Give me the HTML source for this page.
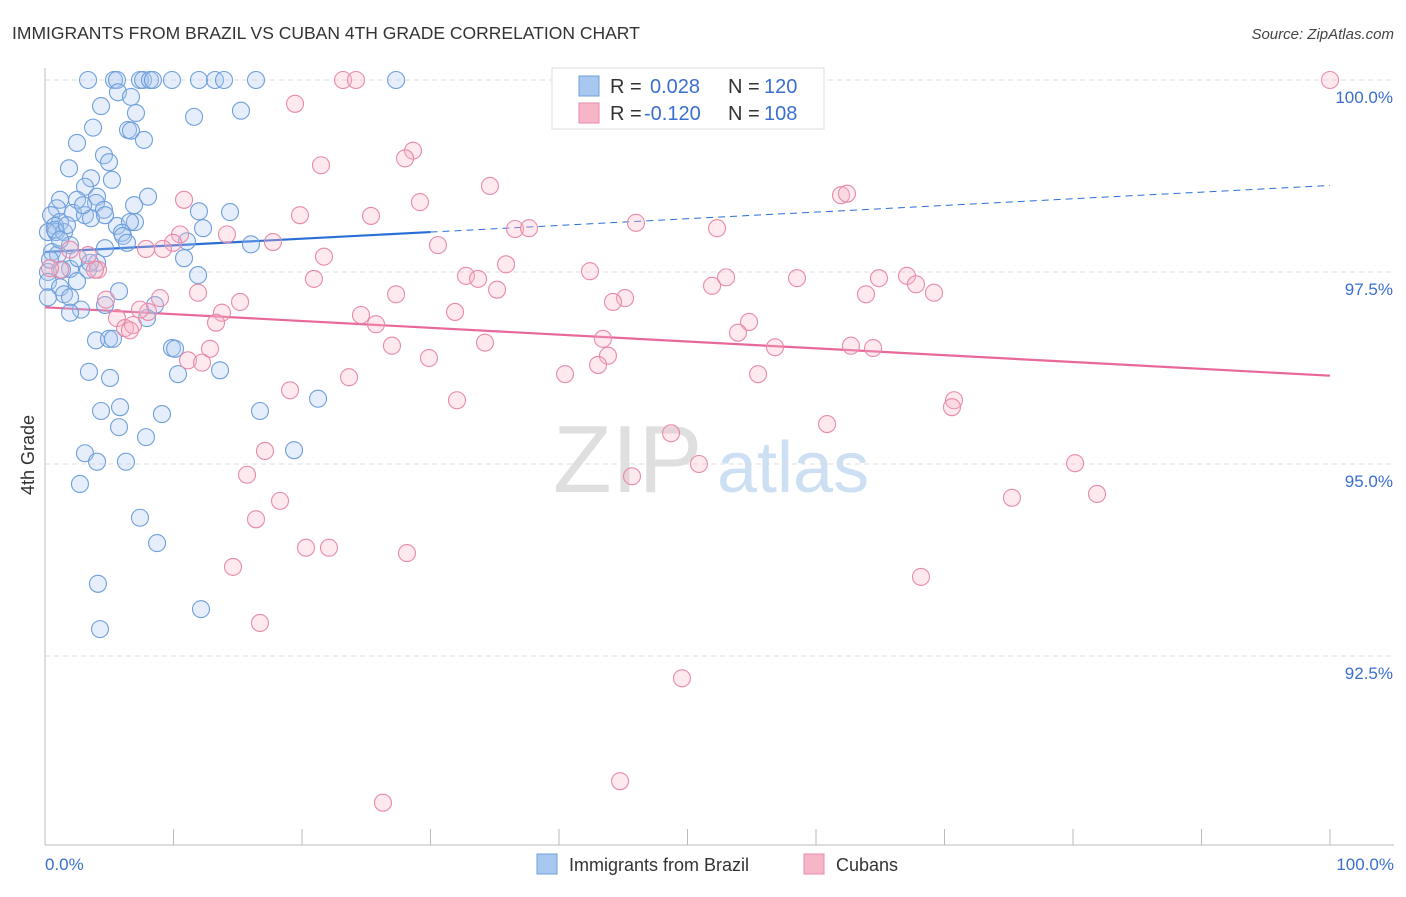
<!DOCTYPE html>
<html><head><meta charset="utf-8">
<style>
body{margin:0;background:#fff;font-family:"Liberation Sans",sans-serif;}
svg text{font-family:"Liberation Sans",sans-serif;}
</style></head>
<body>
<svg id="chart" width="1406" height="892" viewBox="0 0 1406 892" xmlns="http://www.w3.org/2000/svg">
<text x="12" y="39" font-size="17.5" fill="#333">IMMIGRANTS FROM BRAZIL VS CUBAN 4TH GRADE CORRELATION CHART</text>
<text x="1394" y="39" font-size="15" fill="#444" text-anchor="end" font-style="italic">Source: ZipAtlas.com</text>
<g>
<text x="553" y="492" font-size="96" fill="#d8d8d8" font-family="Liberation Serif, serif" opacity="0.8">ZIP</text>
<text x="717" y="492" font-size="72" fill="#b9d2ee" opacity="0.7">atlas</text>
</g>
<g id="grid"></g>
<g id="axes"></g>
<g id="trend"></g>
<g id="points"></g>
<text transform="translate(34,455) rotate(-90)" font-size="18" fill="#333" text-anchor="middle">4th Grade</text>
<g>
<rect x="552" y="68" width="272" height="61" fill="#fff" stroke="#ddd"/>
<rect x="579" y="76" width="20" height="20" fill="#a8c8f0" stroke="#6f9fdc"/>
<text x="610" y="93" font-size="20" fill="#333">R =</text>
<text x="650" y="93" font-size="20" fill="#3a6fd0">0.028</text>
<text x="728" y="93" font-size="20" fill="#333">N =</text>
<text x="764" y="93" font-size="20" fill="#3a6fd0">120</text>
<rect x="579" y="103" width="20" height="20" fill="#f7b6c8" stroke="#e88aa8"/>
<text x="610" y="120" font-size="20" fill="#333">R =</text>
<text x="644" y="120" font-size="20" fill="#3a6fd0">-0.120</text>
<text x="728" y="120" font-size="20" fill="#333">N =</text>
<text x="764" y="120" font-size="20" fill="#3a6fd0">108</text>
</g>
<g>
<rect x="537" y="854" width="20" height="20" fill="#a8c8f0" stroke="#6f9fdc"/>
<text x="569" y="871" font-size="18" fill="#333">Immigrants from Brazil</text>
</g>
<g>
<rect x="804" y="854" width="20" height="20" fill="#f7b6c8" stroke="#e88aa8"/>
<text x="836" y="871" font-size="18" fill="#333">Cubans</text>
</g>
</svg>
<script>
const yTicks=[100,97.5,95,92.5];
const yTickLabels=["100.0%","97.5%","95.0%","92.5%"];
const xTickLabels=["0.0%","100.0%"];
const brazilX=[3.35,5.37,5.6,7.39,7.63,8.17,8.4,9.88,11.98,13.23,13.93,16.42,27.32,5.68,6.69,4.36,7.08,11.6,15.25,3.74,6.46,6.69,7.7,2.49,4.59,4.98,1.87,3.58,3.11,8.02,4.05,1.17,2.49,3.97,6.93,0.93,4.59,2.18,11.98,14.4,0.47,3.11,3.58,1.17,0.78,5.6,7.0,6.61,12.3,0.23,0.86,1.48,5.99,6.07,6.38,11.05,16.03,4.67,0.54,1.01,10.82,4.05,1.95,0.23,1.32,3.35,11.91,2.49,0.23,1.17,5.76,1.48,1.95,0.23,4.67,8.56,2.8,1.95,7.94,3.97,4.98,5.29,9.88,10.12,3.42,13.62,10.35,5.06,21.25,4.36,5.84,9.1,16.73,5.76,7.86,3.11,19.38,4.05,6.3,2.72,7.39,8.72,4.12,12.14,4.28,0.78,1.95,2.57,3.5,0.39,4.67,1.71,1.17,2.96,5.21];
const brazilY=[100,100,100,100,100,100,100,100,100,100,100,100,100,99.84,99.78,99.66,99.57,99.52,99.6,99.38,99.35,99.34,99.22,99.18,99.02,98.93,98.85,98.72,98.61,98.48,98.48,98.44,98.44,98.4,98.37,98.33,98.31,98.27,98.29,98.28,98.24,98.24,98.2,98.15,98.1,98.1,98.15,98.15,98.07,98.02,98.02,98.02,98.01,97.97,97.88,97.9,97.86,97.81,97.76,97.73,97.68,97.62,97.54,97.5,97.53,97.53,97.46,97.38,97.37,97.3,97.25,97.21,97.17,97.17,97.07,97.07,97.01,96.97,96.9,96.61,96.63,96.63,96.51,96.5,96.2,96.22,96.17,96.12,95.85,95.69,95.74,95.65,95.69,95.48,95.35,95.14,95.18,95.03,95.03,94.74,94.3,93.97,93.44,93.11,92.85,98.05,97.85,97.68,97.62,97.66,98.24,98.11,97.92,98.37,98.7];
const cubanX=[100,23.19,24.2,19.46,28.64,28.02,21.48,34.63,61.95,62.41,10.82,29.18,19.84,25.37,36.58,37.67,45.99,52.3,10.51,14.16,9.96,17.74,9.18,7.86,30.58,21.71,35.88,42.41,32.76,33.7,53.0,58.52,64.9,67.08,67.78,69.18,51.91,63.89,4.12,20.93,35.18,27.32,45.14,44.2,15.18,11.91,8.95,8.02,4.75,5.6,31.91,24.59,25.76,13.77,13.31,6.23,6.85,54.79,53.93,43.42,34.24,27.0,12.84,56.81,62.72,64.44,43.81,11.13,12.22,29.88,43.04,40.47,23.66,55.49,19.07,32.06,70.74,70.58,60.86,48.72,17.12,15.72,45.68,50.89,80.16,18.29,75.25,81.87,16.42,20.31,22.1,28.17,14.63,68.17,16.73,49.57,44.75,26.3,7.39,3.89,3.35,1.17,1.95,0.39,6.61];
const cubanY=[100,100,100,99.69,99.08,98.98,98.89,98.62,98.5,98.52,98.44,98.41,98.24,98.23,98.06,98.07,98.14,98.07,97.99,97.99,97.88,97.89,97.8,97.8,97.85,97.7,97.6,97.51,97.45,97.41,97.43,97.42,97.42,97.45,97.34,97.23,97.32,97.21,97.53,97.41,97.27,97.21,97.16,97.11,97.11,97.23,97.16,96.98,97.14,96.9,96.98,96.94,96.82,96.97,96.84,96.77,96.81,96.85,96.71,96.63,96.58,96.54,96.5,96.52,96.54,96.51,96.41,96.35,96.32,96.38,96.29,96.17,96.13,96.17,95.96,95.83,95.83,95.74,95.52,95.4,95.17,94.86,94.84,95.0,95.01,94.52,94.56,94.61,94.28,93.91,93.91,93.84,93.66,93.53,92.93,92.21,90.87,90.59,97.01,97.53,97.72,97.53,97.79,97.55,96.74];
const brazilTrend=[97.76,0.00867];
const cubanTrend=[97.04,-0.0089];

const X0=45,X1=1330,Y100=80,PXPER=76.8;
const sx=v=>X0+(X1-X0)*v/100;
const sy=v=>Y100+(100-v)*PXPER;
const NS="http://www.w3.org/2000/svg";
function mk(t,a,p){const e=document.createElementNS(NS,t);for(const k in a)e.setAttribute(k,a[k]);p.appendChild(e);return e;}
const grid=document.getElementById('grid'),axes=document.getElementById('axes'),trend=document.getElementById('trend'),pts=document.getElementById('points');
yTicks.forEach((t,i)=>{
 const l=mk('line',{x1:X0,x2:1394,y1:sy(t),y2:sy(t),stroke:'#ddd','stroke-dasharray':'5,4'},grid);
 
 
 const tx=mk('text',{x:1393,y:sy(t)+23,'font-size':17,fill:'#3a6fd0','text-anchor':'end'},axes);
 tx.textContent=yTickLabels[i];
 
 
});
const ax=mk('line',{x1:X0,x2:X0,y1:68,y2:845,stroke:'#bbb'},axes);


const xa=mk('line',{x1:X0,x2:1394,y1:845,y2:845,stroke:'#bbb'},axes);


for(let i=0;i<=10;i++){
 const tk=mk('line',{x1:sx(i*10),x2:sx(i*10),y1:829,y2:845,stroke:'#bbb'},axes);
 
 
}
[[0,'start',X0],[1,'end',1394]].forEach(([i,a,x])=>{
 const t=mk('text',{x:x,y:870,'font-size':17,fill:'#3a6fd0','text-anchor':a},axes);
 t.textContent=xTickLabels[i];
 
 
});
function drawPts(X,Y,fill,stroke,name){
 X.forEach((x,i)=>{
  const c=mk('circle',{cx:sx(x),cy:sy(Y[i]),r:8.5,fill:fill,'fill-opacity':0.3,stroke:stroke,'stroke-width':1.1},pts);
  
  
 });
}
drawPts(brazilX,brazilY,'#a8c8f0','#6f9fdc','brazil-point');
drawPts(cubanX,cubanY,'#f7b6c8','#e88aa8','cuban-point');
const bt=x=>brazilTrend[0]+brazilTrend[1]*x, ct=x=>cubanTrend[0]+cubanTrend[1]*x;
const l1=mk('line',{x1:sx(0),y1:sy(bt(0)),x2:sx(30),y2:sy(bt(30)),stroke:'#2a6fd6','stroke-width':2.2},trend);


const l2=mk('line',{x1:sx(30),y1:sy(bt(30)),x2:sx(100),y2:sy(bt(100)),stroke:'#2a6fd6','stroke-width':1,'stroke-dasharray':'7,5'},trend);


const l3=mk('line',{x1:sx(0),y1:sy(ct(0)),x2:sx(100),y2:sy(ct(100)),stroke:'#e8689a','stroke-width':2.2},trend);


</script>
</body></html>
